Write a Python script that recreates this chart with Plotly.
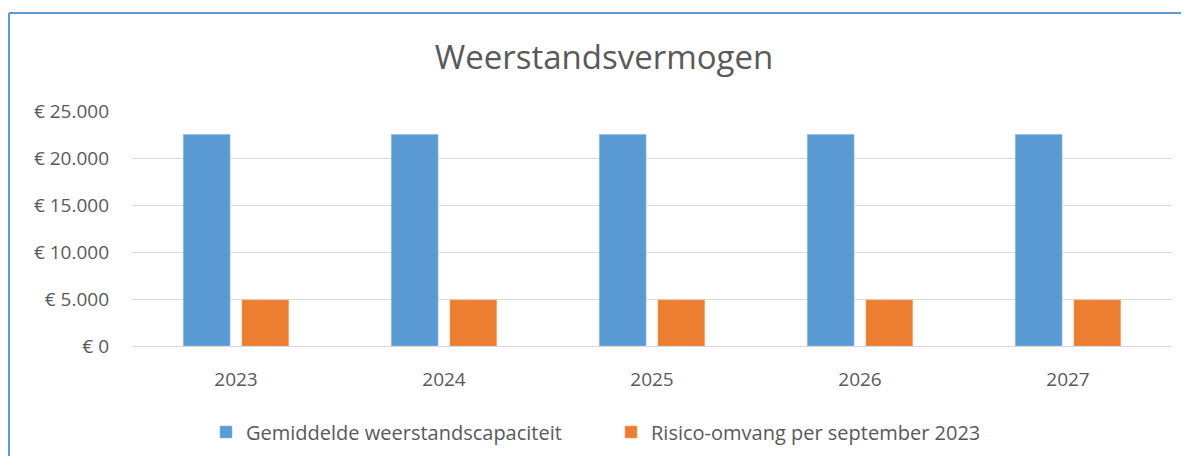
import plotly.graph_objects as go

years = ["2023", "2024", "2025", "2026", "2027"]
weerstandscapaciteit = [22500, 22500, 22500, 22500, 22500]
risico_omvang = [4900, 4900, 4900, 4900, 4900]
tick_vals = [0, 5000, 10000, 15000, 20000, 25000]
tick_text = ["€ 0", "€ 5.000", "€ 10.000", "€ 15.000", "€ 20.000", "€ 25.000"]

FONT = "Open Sans"
GREY = "#595959"

fig = go.Figure()
fig.add_trace(go.Bar(x=years, y=weerstandscapaciteit, name="Gemiddelde weerstandscapaciteit",
                     marker=dict(color="#5B9BD5", line=dict(color="#8DB8E2", width=0.6))))
fig.add_trace(go.Bar(x=years, y=risico_omvang, name="Risico-omvang per september 2023",
                     marker=dict(color="#ED7D31", line=dict(color="#F3A777", width=0.6))))

# page has an 8px body margin; figure coordinates = page coordinates - 8
OFF = 8
W, H = 1189 - 2 * OFF, 464 - 2 * OFF
L, T = 132 - OFF, 111 - OFF
R, B = W - (1172 - OFF), H - (346 - OFF)
pw, ph = W - L - R, H - T - B


def px(x):
    return (x - OFF - L) / pw


def py(y):
    return (H - B - (y - OFF)) / ph


fig.update_layout(
    width=W, height=H,
    margin=dict(l=L, r=R, t=T, b=B, autoexpand=False),
    paper_bgcolor="white", plot_bgcolor="white",
    barmode="group", bargap=0.436, bargroupgap=0.204,
    font=dict(family=FONT, color=GREY, size=19),
    title=dict(text="Weerstandsvermogen", x=(604 - OFF) / W, xref="container", xanchor="center",
               y=1 - (57 - OFF) / H, yref="container", yanchor="middle",
               font=dict(family=FONT, size=33, color=GREY)),
    showlegend=True,
    legend=dict(orientation="h", x=px(206), xanchor="left", y=py(432), yanchor="middle",
                font=dict(family=FONT, size=20, color=GREY), itemwidth=30,
                entrywidth=360, traceorder="normal"),
    xaxis=dict(showgrid=False, showline=True, linecolor="#d9d9d9", linewidth=1,
               ticks="", ticklabelstandoff=16, tickfont=dict(size=19, color=GREY)),
    yaxis=dict(range=[0, 25000], tickvals=tick_vals, ticktext=tick_text,
               showgrid=True, gridcolor="#d9d9d9", gridwidth=1,
               zeroline=True, zerolinecolor="#d9d9d9", zerolinewidth=1,
               showline=False, ticks="", ticklabelstandoff=22,
               tickfont=dict(size=19, color=GREY)),
    shapes=[
        dict(type="line", xref="paper", yref="paper", x0=px(9), x1=px(1200), y0=py(13), y1=py(13),
             line=dict(color="#5B9BD5", width=2)),
        dict(type="line", xref="paper", yref="paper", x0=px(9), x1=px(9), y0=py(13), y1=py(480),
             line=dict(color="#5B9BD5", width=2)),
    ],
)

fig.write_html("out.html")
